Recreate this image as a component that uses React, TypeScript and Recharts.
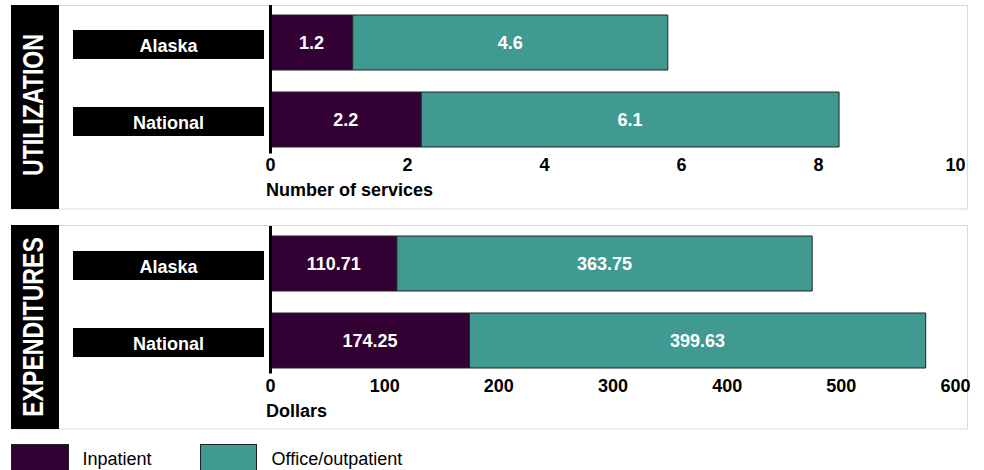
import React from 'react';
import { BarChart, Bar, XAxis, YAxis, LabelList } from 'recharts';

const categories = ['Alaska', 'National'];
const seriesNames = ['Inpatient', 'Office/outpatient'];
const utilInpatient = [1.2, 2.2];
const utilOutpatient = [4.6, 6.1];
const expInpatient = [110.71, 174.25];
const expOutpatient = [363.75, 399.63];
const utilTicks = [0, 2, 4, 6, 8, 10];
const expTicks = [0, 100, 200, 300, 400, 500, 600];
const panelTitles = ['UTILIZATION', 'EXPENDITURES'];
const axisTitles = ['Number of services', 'Dollars'];

const PURPLE = '#330033';
const TEAL = '#409a92';
const FONT = '"Liberation Sans", Arial, Helvetica, sans-serif';

const utilData = categories.map((name, i) => ({ name, inpatient: utilInpatient[i], outpatient: utilOutpatient[i] }));
const expData = categories.map((name, i) => ({ name, inpatient: expInpatient[i], outpatient: expOutpatient[i] }));

const CatTick = (props: any) => {
  const { y, payload } = props;
  return (
    <g>
      <rect x={73} y={y - 12.5} width={191} height={29} fill="#000" />
      <text x={168.5} y={y + 9.2} textAnchor="middle" fill="#fff" fontSize={18} fontWeight={700} fontFamily={FONT}>
        {payload.value}
      </text>
    </g>
  );
};

const NumTick = (props: any) => {
  const { x, y, payload } = props;
  return (
    <text x={x} y={y + 12.5} textAnchor="middle" fill="#000" fontSize={18} fontWeight={700} fontFamily={FONT}>
      {payload.value}
    </text>
  );
};

const Panel = ({ top, data, ticks, label }: any) => {
  const max = ticks[ticks.length - 1];
  return (
    <div style={{ position: 'absolute', left: 0, top: top - 10 }}>
      <BarChart
        width={984}
        height={213}
        data={data}
        layout="vertical"
        margin={{ top: 9, right: 28.5, bottom: 0, left: 0 }}
        barSize={55}
      >
        <XAxis
          type="number"
          domain={[0, max]}
          ticks={ticks}
          interval={0}
          axisLine={false}
          tickLine={false}
          tickSize={0}
          tickMargin={0}
          height={50}
          tick={(p: any) => <NumTick {...p} />}
          label={{
            content: (lp: any) => {
              const vb = lp.viewBox || {};
              return (
                <text x={vb.x - 4.5} y={vb.y + 38.2} fill="#000" fontSize={18} fontWeight={700} fontFamily={FONT}>
                  {label}
                </text>
              );
            },
          }}
        />
        <YAxis
          type="category"
          dataKey="name"
          width={270.5}
          axisLine={false}
          tickLine={false}
          tickSize={0}
          tickMargin={0}
          tick={(p: any) => <CatTick {...p} />}
        />
        <Bar dataKey="inpatient" stackId="a" fill={PURPLE} stroke="#222" strokeWidth={1} isAnimationActive={false}>
          <LabelList dataKey="inpatient" position="center" fill="#fff" stroke="none" fontSize={18} fontWeight={700} fontFamily={FONT} />
        </Bar>
        <Bar dataKey="outpatient" stackId="a" fill={TEAL} stroke="#222" strokeWidth={1} isAnimationActive={false}>
          <LabelList dataKey="outpatient" position="center" fill="#fff" stroke="none" fontSize={18} fontWeight={700} fontFamily={FONT} />
        </Bar>
      </BarChart>
    </div>
  );
};

export default function App() {
  const panels = [
    { frameTop: 5.5, chartTop: 5, titleCenter: 105 },
    { frameTop: 225.5, chartTop: 226, titleCenter: 327 },
  ];
  return (
    <div style={{ position: 'absolute', left: 0, top: 0, width: 984, height: 470, background: '#fff', overflow: 'hidden', fontFamily: FONT }}>
      <svg width={984} height={470} style={{ position: 'absolute', left: 0, top: 0 }}>
        {panels.map((p, i) => (
          <g key={i}>
            <rect x={11.5} y={p.frameTop} width={956} height={203.5} fill="#fff" stroke="#d9d9d9" strokeWidth={1} />
            <rect x={11} y={p.frameTop - 0.5} width={48} height={204} fill="#000" />
            <text
              transform={`translate(43.3 ${p.titleCenter}) rotate(-90) scale(0.77 1)`}
              textAnchor="middle"
              fill="#fff"
              fontSize={30}
              fontWeight={700}
              fontFamily={FONT}
            >
              {panelTitles[i]}
            </text>
          </g>
        ))}
        <rect x={11.5} y={444.5} width={57} height={30} fill={PURPLE} stroke="#222" strokeWidth={1} />
        <text x={82.5} y={464.5} fill="#000" fontSize={18} fontFamily={FONT}>{seriesNames[0]}</text>
        <rect x={200.5} y={444.5} width={56} height={30} fill={TEAL} stroke="#222" strokeWidth={1} />
        <text x={271.5} y={464.5} fill="#000" fontSize={18} fontFamily={FONT}>{seriesNames[1]}</text>
      </svg>
      <Panel top={panels[0].chartTop} data={utilData} ticks={utilTicks} label={axisTitles[0]} />
      <Panel top={panels[1].chartTop} data={expData} ticks={expTicks} label={axisTitles[1]} />
      <svg width={984} height={470} style={{ position: 'absolute', left: 0, top: 0, pointerEvents: 'none' }}>
        <rect x={269} y={5} width={3} height={148.5} fill="#000" />
        <rect x={269} y={226} width={3} height={147.5} fill="#000" />
      </svg>
    </div>
  );
}
